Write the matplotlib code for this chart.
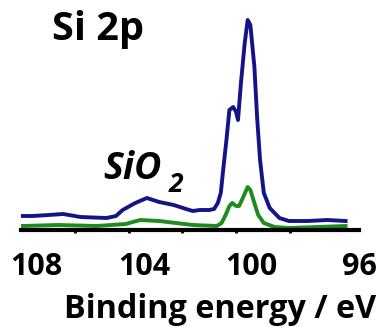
import matplotlib.pyplot as plt

plt.rcParams['font.family'] = ['Open Sans', 'DejaVu Sans']

# Si 2p spectra (binding energy in eV, intensity in arb. units)
energy_blue = [108.54, 108.14, 107.54, 107.0, 106.36, 105.39, 105.04, 104.79, 104.32,
               103.89, 103.43, 102.89, 102.43, 102.18, 101.93, 101.57, 101.39, 101.25,
               101.14, 101.04, 100.93, 100.82, 100.68, 100.57, 100.5, 100.39, 100.25,
               100.14, 100.04, 99.89, 99.79, 99.68, 99.54, 99.32, 98.96, 98.61,
               97.89, 97.18, 96.5]
intensity_blue = [14, 14, 15, 16, 13, 12, 14, 20, 27,
                  32, 28, 25, 21, 19, 20, 20, 21, 27,
                  37, 63, 90, 120, 123, 118, 110, 147, 187,
                  210, 205, 163, 113, 70, 37, 22, 12, 9,
                  9, 10, 9]

energy_green = [108.54, 107.18, 105.75, 104.68, 104.14, 103.43, 102.18, 101.29, 101.11,
                100.96, 100.82, 100.71, 100.57, 100.46, 100.32, 100.14, 100.04, 99.89,
                99.75, 99.54, 99.14, 98.61, 97.54, 96.5]
intensity_green = [4, 5, 4, 6, 10, 9, 5, 4, 7,
                   15, 24, 27, 24, 24, 32, 43, 40, 27,
                   15, 7, 3, 2, 3, 4]

tick_values = [108, 104, 100, 96]
minor_ticks = [106.57, 104.57, 102.57, 100.57, 98.57]

fig = plt.figure(figsize=(3.92, 3.27), dpi=100)
ax = fig.add_axes([21 / 392, 97 / 327, 338 / 392, 220 / 327])

ax.plot(energy_blue, intensity_blue, color='#141488', lw=2.8)
ax.plot(energy_green, intensity_green, color='#1f8a1f', lw=2.8)

ax.set_xlim(108.57, 96.5)
ax.set_ylim(0, 220)

for s in ['top', 'right', 'left']:
    ax.spines[s].set_visible(False)
ax.spines['bottom'].set_linewidth(3)
ax.set_yticks([])

ax.set_xticks(tick_values)
ax.set_xticklabels([str(t) for t in tick_values], fontsize=22, fontweight='bold')
ax.tick_params(axis='x', which='major', length=0, pad=16)
ax.set_xticks(minor_ticks, minor=True)
ax.tick_params(axis='x', which='minor', length=2.5, width=2)

# x label in figure coords so it sits where the original does
fig.text(220 / 392, 1 - 318 / 327, 'Binding energy / eV', fontsize=23.3,
         fontweight='bold', ha='center', va='baseline')

fig.text(98.5 / 392, 1 - 40 / 327, 'Si 2p', fontsize=28.5, fontweight='bold',
         ha='center', va='baseline')
fig.text(103 / 392, 1 - 179 / 327, 'SiO', fontsize=27, fontweight='bold',
         fontstyle='italic', ha='left', va='baseline')
fig.text(169 / 392, 1 - 192 / 327, '2', fontsize=19, fontweight='bold',
         fontstyle='italic', ha='left', va='baseline')

fig.savefig('out.png', dpi=100)
